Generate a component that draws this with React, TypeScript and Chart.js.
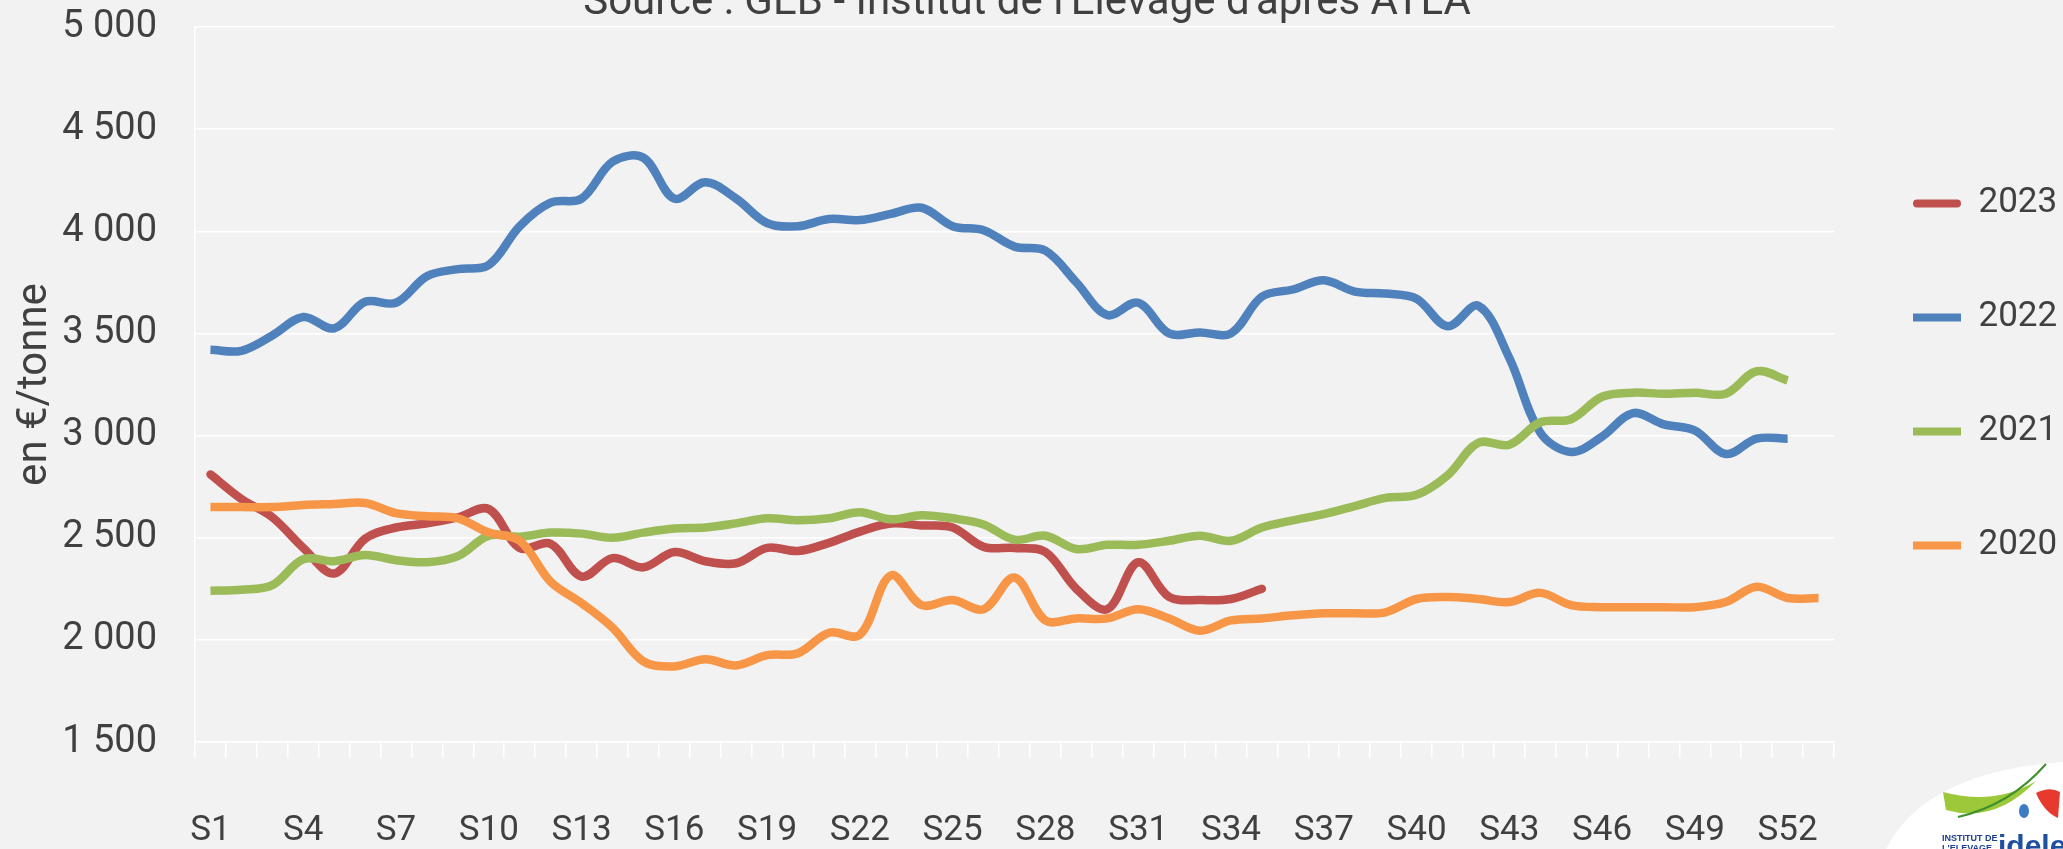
import React, { useEffect, useRef } from 'react';
import { Chart, registerables } from 'chart.js';

Chart.register(...registerables);

const WEEKS = [
  'S1', 'S2', 'S3', 'S4', 'S5', 'S6', 'S7', 'S8', 'S9', 'S10',
  'S11', 'S12', 'S13', 'S14', 'S15', 'S16', 'S17', 'S18', 'S19', 'S20',
  'S21', 'S22', 'S23', 'S24', 'S25', 'S26', 'S27', 'S28', 'S29', 'S30',
  'S31', 'S32', 'S33', 'S34', 'S35', 'S36', 'S37', 'S38', 'S39', 'S40',
  'S41', 'S42', 'S43', 'S44', 'S45', 'S46', 'S47', 'S48', 'S49', 'S50',
  'S51', 'S52', 'S53',
];

const SERIES_NAMES = ['2023', '2022', '2021', '2020'];

const V2023 = [
  2810, 2690, 2600, 2450, 2325, 2495, 2550, 2570, 2600, 2640,
  2450, 2470, 2310, 2400, 2355, 2430, 2385, 2375, 2450, 2435,
  2475, 2530, 2570, 2560, 2550, 2455, 2450, 2430, 2250, 2150,
  2380, 2210, 2195, 2200, 2250,
];

const V2022 = [
  3420, 3415, 3490, 3580, 3525, 3655, 3650, 3780, 3815, 3835,
  4025, 4140, 4160, 4340, 4360, 4160, 4240, 4160, 4040, 4025,
  4060, 4055, 4085, 4115, 4025, 4005, 3925, 3905, 3750, 3590,
  3650, 3500, 3505, 3500, 3680, 3715, 3760, 3705, 3695, 3670,
  3535, 3635, 3380, 3015, 2920, 2995, 3110, 3055, 3025, 2910,
  2985, 2985,
];

const V2021 = [
  2240, 2245, 2268, 2395, 2385, 2415, 2390, 2380, 2410, 2510,
  2505, 2525, 2520, 2500, 2525, 2545, 2550, 2570, 2595, 2585,
  2595, 2625, 2590, 2610, 2595, 2565, 2490, 2510, 2445, 2465,
  2465, 2485, 2510, 2485, 2550, 2585, 2615, 2655, 2695, 2710,
  2805, 2965, 2955, 3065, 3080, 3190, 3210, 3205, 3210, 3205,
  3315, 3270,
];

const V2020 = [
  2650, 2650, 2650, 2660, 2665, 2670, 2620, 2605, 2595, 2525,
  2485, 2285, 2180, 2060, 1895, 1870, 1905, 1875, 1925, 1935,
  2035, 2025, 2315, 2170, 2195, 2150, 2305, 2095, 2105, 2105,
  2150, 2105, 2045, 2095, 2105, 2120, 2130, 2130, 2135, 2200,
  2210, 2200, 2185, 2230, 2170, 2160, 2160, 2160, 2160, 2185,
  2260, 2205, 2205,
];

const SERIES_VALUES = [V2023, V2022, V2021, V2020];
const SERIES_COLORS = ['#C0504D', '#4F81BD', '#9BBB59', '#F79646'];

const Y_MIN = 1500;
const Y_MAX = 5000;
const Y_STEP = 500;

const TITLE = "Source : GEB - Institut de l'Elevage d'après ATLA";
const Y_TITLE = 'en €/tonne';
const LOGO_TOP = 'INSTITUT DE';
const LOGO_BOTTOM = "L'ELEVAGE";
const LOGO_NAME = 'idele';

const TEXT_COLOR = '#404040';
const FONT = 'Roboto';

function formatThousands(v: number): string {
  const s = String(Math.round(v));
  return s.length > 3 ? s.slice(0, -3) + ' ' + s.slice(-3) : s;
}

// Source line at the very top (partly cut by the top edge, as in the original)
const sourceTitlePlugin = {
  id: 'sourceTitle',
  afterDraw(chart: any) {
    const ctx = chart.ctx;
    ctx.save();
    ctx.font = `42px ${FONT}`;
    ctx.fillStyle = TEXT_COLOR;
    ctx.textAlign = 'center';
    ctx.textBaseline = 'alphabetic';
    ctx.fillText(TITLE, 1027, 14);
    ctx.restore();
  },
};

const logoPlugin = {
  id: 'ideleLogo',
  afterDraw(chart: any) {
    const ctx = chart.ctx;
    ctx.save();
    ctx.beginPath();
    ctx.moveTo(1886, 849);
    ctx.quadraticCurveTo(1925, 772, 2063, 762);
    ctx.lineTo(2063, 849);
    ctx.closePath();
    ctx.fillStyle = '#ffffff';
    ctx.fill();
    ctx.beginPath();
    ctx.moveTo(1943, 792);
    ctx.quadraticCurveTo(1995, 806, 2036, 781);
    ctx.quadraticCurveTo(1995, 824, 1946, 810);
    ctx.closePath();
    ctx.fillStyle = '#9cc83a';
    ctx.fill();
    ctx.beginPath();
    ctx.moveTo(1958, 817);
    ctx.quadraticCurveTo(2010, 805, 2046, 764);
    ctx.strokeStyle = '#3f8f2f';
    ctx.lineWidth = 2;
    ctx.stroke();
    ctx.beginPath();
    ctx.moveTo(2036, 793);
    ctx.quadraticCurveTo(2050, 786, 2060, 792);
    ctx.lineTo(2058, 818);
    ctx.quadraticCurveTo(2044, 812, 2036, 793);
    ctx.closePath();
    ctx.fillStyle = '#e63a2e';
    ctx.fill();
    ctx.beginPath();
    ctx.ellipse(2024, 811, 5, 7, 0, 0, Math.PI * 2);
    ctx.fillStyle = '#3d7cc4';
    ctx.fill();
    ctx.fillStyle = '#1d3f8f';
    ctx.font = 'bold 9px "Liberation Sans Narrow", "Liberation Sans", sans-serif';
    ctx.textBaseline = 'alphabetic';
    ctx.textAlign = 'left';
    ctx.fillText(LOGO_TOP, 1942, 841);
    ctx.fillText(LOGO_BOTTOM, 1942, 851);
    ctx.font = 'bold 30px "Liberation Sans", sans-serif';
    ctx.fillStyle = '#1f4fa0';
    ctx.fillText(LOGO_NAME, 1998, 856);
    ctx.restore();
  },
};

export default function App() {
  const canvasRef = useRef<HTMLCanvasElement | null>(null);

  useEffect(() => {
    const canvas = canvasRef.current;
    if (!canvas) return;

    const datasets = SERIES_VALUES.map((data, k) => ({
      label: SERIES_NAMES[k],
      data,
      borderColor: SERIES_COLORS[k],
      backgroundColor: SERIES_COLORS[k],
      borderWidth: 8.5,
      tension: 0.35,
      pointRadius: 0,
      pointHoverRadius: 0,
      borderCapStyle: k === 0 ? 'round' : 'butt',
      borderJoinStyle: 'round',
      fill: false,
      order: SERIES_VALUES.length - k,
    }));

    const chart = new Chart(canvas, {
      type: 'line',
      data: { labels: WEEKS, datasets: datasets as any },
      options: {
        responsive: false,
        animation: false,
        devicePixelRatio: 1,
        events: [],
        layout: { padding: { left: 0, right: 0, top: 27, bottom: 0 } },
        plugins: {
          title: { display: false },
          legend: {
            position: 'right',
            align: 'start',
            maxWidth: 229,
            title: {
              display: true,
              text: '',
              font: { size: 10, lineHeight: 1 },
              padding: { top: 70, bottom: 0 },
            },
            labels: {
              boxWidth: 48,
              boxHeight: 8,
              padding: 79,
              color: TEXT_COLOR,
              font: { family: FONT, size: 35 },
              sort: (a: any, b: any) => a.datasetIndex - b.datasetIndex,
              generateLabels: (c: any) =>
                (Chart.defaults.plugins.legend.labels as any)
                  .generateLabels(c)
                  .map((it: any) => ({
                    ...it,
                    lineWidth: 0,
                    borderRadius: it.datasetIndex === 0 ? 4 : 0,
                  })),
            },
          },
          tooltip: { enabled: false },
        },
        scales: {
          x: {
            type: 'category',
            offset: true,
            grid: {
              display: true,
              drawOnChartArea: false,
              drawTicks: true,
              tickLength: 16,
              color: '#ffffff',
              lineWidth: 1.5,
              offset: true,
            },
            border: { display: true, color: '#ffffff', width: 1.5 },
            ticks: {
              autoSkip: false,
              maxRotation: 0,
              minRotation: 0,
              padding: 52,
              color: TEXT_COLOR,
              font: { family: FONT, size: 35 },
              callback: (_v: any, i: number) => (i % 3 === 0 ? WEEKS[i] : ''),
            },
            afterFit: (s: any) => {
              s.height = 107;
            },
          },
          y: {
            min: Y_MIN,
            max: Y_MAX,
            ticks: {
              stepSize: Y_STEP,
              padding: 4,
              color: TEXT_COLOR,
              font: { family: FONT, size: 38 },
              callback: (v: any) => formatThousands(Number(v)),
            },
            grid: {
              color: '#ffffff',
              lineWidth: 1.5,
              drawTicks: true,
              tickLength: 34,
              tickColor: 'rgba(0,0,0,0)',
            },
            border: { display: true, color: '#ffffff', width: 1.5 },
            title: {
              display: true,
              text: Y_TITLE,
              color: TEXT_COLOR,
              font: { family: FONT, size: 42 },
              padding: { top: 10, bottom: 0 },
            },
            afterFit: (s: any) => {
              s.width = 195;
            },
          },
        },
      } as any,
      plugins: [sourceTitlePlugin, logoPlugin],
    });

    return () => {
      chart.destroy();
    };
  }, []);

  return (
    <div
      style={{
        position: 'absolute',
        left: 0,
        top: 0,
        width: 2063,
        height: 849,
        background: '#f2f2f2',
        overflow: 'hidden',
      }}
    >
      <canvas ref={canvasRef} width={2063} height={849} style={{ display: 'block' }} />
    </div>
  );
}
